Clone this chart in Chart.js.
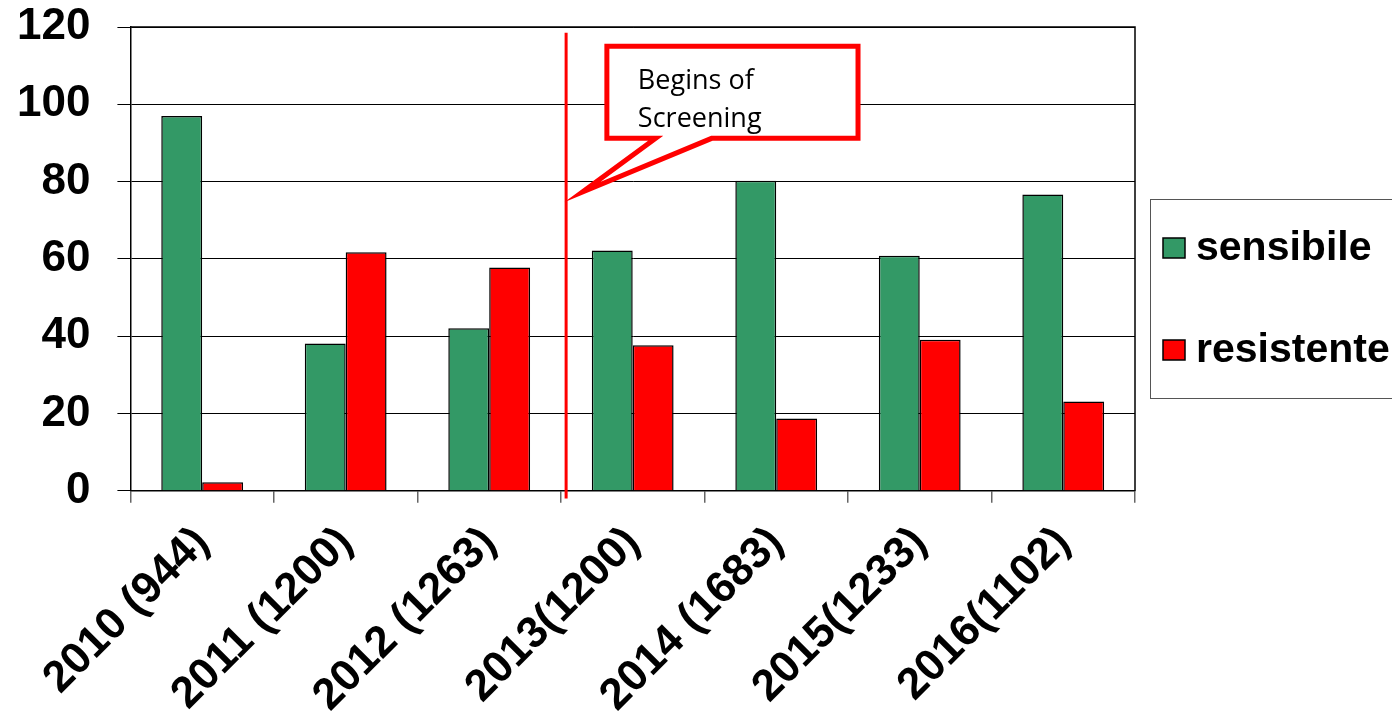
<!DOCTYPE html>
<html>
<head>
<meta charset="utf-8">
<script src="https://cdn.jsdelivr.net/npm/chart.js@4.4.0/dist/chart.umd.min.js"></script>
<style>
  html, body { margin: 0; padding: 0; background: #fff; }
</style>
</head>
<body>
<canvas id="screening-chart" width="1392" height="716"></canvas>
<script>
// Categorías: año (número de casos)
var anni = ["2010 (944)", "2011 (1200)", "2012 (1263)", "2013(1200)", "2014 (1683)", "2015(1233)", "2016(1102)"];

// Valores (%)
var sensibile = [97, 38.1, 42.1, 62.2, 80.2, 60.8, 76.7];
var resistente = [2.2, 61.7, 57.8, 37.7, 18.7, 39.1, 23.1];

// Marcas del eje y
var tickY = [0, 20, 40, 60, 80, 100, 120];

// Texto de la nota
var testoNota = ["Begins of", "Screening"];

var fontBold = "'Liberation Sans', Arial, sans-serif";

// Plugin: borde del área, línea roja, nota y leyenda con marco
var pluginNota = {
  id: "nota",
  afterDatasetsDraw: function (chart) {
    var ctx = chart.ctx;
    var x = chart.scales.x;
    var y = chart.scales.y;
    var area = chart.chartArea;
    ctx.save();

    // borde superior y derecho
    ctx.strokeStyle = "#000";
    ctx.lineWidth = 1.5;
    ctx.beginPath();
    ctx.moveTo(area.left, area.top);
    ctx.lineTo(area.right, area.top);
    ctx.lineTo(area.right, area.bottom);
    ctx.stroke();

    // línea vertical: inicio del screening
    var xl = x.getPixelForValue(2.536);
    ctx.strokeStyle = "#ff0000";
    ctx.lineWidth = 3;
    ctx.beginPath();
    ctx.moveTo(xl, y.getPixelForValue(118.5));
    ctx.lineTo(xl, y.getPixelForValue(-2));
    ctx.stroke();

    // globo de la nota (la punta en inglete llega hasta la línea)
    var bl = x.getPixelForValue(2.82), br = x.getPixelForValue(4.57);
    var bt = y.getPixelForValue(115), bb = y.getPixelForValue(91.2);
    var t1 = x.getPixelForValue(3.16), t2 = x.getPixelForValue(3.55);
    var tx = x.getPixelForValue(2.65), ty = y.getPixelForValue(77.3);
    ctx.beginPath();
    ctx.moveTo(bl, bt);
    ctx.lineTo(br, bt);
    ctx.lineTo(br, bb);
    ctx.lineTo(t2, bb);
    ctx.lineTo(tx, ty);
    ctx.lineTo(t1, bb);
    ctx.lineTo(bl, bb);
    ctx.closePath();
    ctx.fillStyle = "#fff";
    ctx.fill();
    ctx.lineWidth = 5;
    ctx.lineJoin = "miter";
    ctx.miterLimit = 12;
    ctx.stroke();

    ctx.fillStyle = "#000";
    ctx.font = "27px 'Open Sans', sans-serif";
    ctx.textAlign = "left";
    ctx.textBaseline = "alphabetic";
    ctx.fillText(testoNota[0], bl + 31, bt + 43);
    ctx.fillText(testoNota[1], bl + 31, bt + 81);

    // leyenda
    var lx = area.right + 15, ly = area.top + 172;
    ctx.strokeStyle = "#555";
    ctx.lineWidth = 1;
    ctx.strokeRect(lx + 0.5, ly + 0.5, 260, 199);
    ctx.font = "bold 41px " + fontBold;
    ctx.textBaseline = "middle";
    chart.data.datasets.forEach(function (ds, i) {
      var cy = ly + 49 + i * 102;
      ctx.fillStyle = ds.backgroundColor;
      ctx.fillRect(lx + 13, cy - 10, 22, 20);
      ctx.strokeStyle = "#000";
      ctx.lineWidth = 1.5;
      ctx.strokeRect(lx + 13, cy - 10, 22, 20);
      ctx.fillStyle = "#000";
      ctx.fillText(ds.label, lx + 46, cy + 1);
    });
    ctx.restore();
  }
};

var ctx = document.getElementById("screening-chart").getContext("2d");

var chart = new Chart(ctx, {
  type: "bar",
  data: {
    labels: anni,
    datasets: [
      {
        label: "sensibile",
        data: sensibile,
        backgroundColor: "#339966",
        borderColor: "#000",
        borderWidth: 1.5,
        categoryPercentage: 0.57,
        barPercentage: 1.0
      },
      {
        label: "resistente",
        data: resistente,
        backgroundColor: "#ff0000",
        borderColor: "#000",
        borderWidth: 1.5,
        categoryPercentage: 0.57,
        barPercentage: 1.0
      }
    ]
  },
  options: {
    responsive: false,
    animation: false,
    layout: {
      padding: { top: 27, right: 257, bottom: -20, left: -10 }
    },
    plugins: {
      legend: { display: false },
      tooltip: { enabled: false }
    },
    scales: {
      x: {
        grid: {
          display: true,
          drawOnChartArea: false,
          offset: true,
          tickLength: 12,
          color: "#666",
          lineWidth: 1.5
        },
        border: { color: "#000", width: 1.5 },
        ticks: {
          autoSkip: false,
          minRotation: 45,
          maxRotation: 45,
          padding: 14,
          color: "#000",
          font: { family: fontBold, size: 44, weight: "bold" }
        }
      },
      y: {
        min: 0,
        max: 120,
        afterBuildTicks: function (scale) {
          scale.ticks = tickY.map(function (v) { return { value: v }; });
        },
        // el padding de las etiquetas no debe empujar el área hacia abajo
        afterFit: function (scale) {
          scale.paddingTop = 0;
          scale.paddingBottom = 0;
        },
        grid: {
          color: "#000",
          lineWidth: 1,
          tickLength: 13
        },
        border: { color: "#000", width: 1.5 },
        ticks: {
          padding: 27,
          color: "#000",
          font: { family: fontBold, size: 44, weight: "bold" }
        }
      }
    }
  },
  plugins: [pluginNota]
});
</script>
</body>
</html>
